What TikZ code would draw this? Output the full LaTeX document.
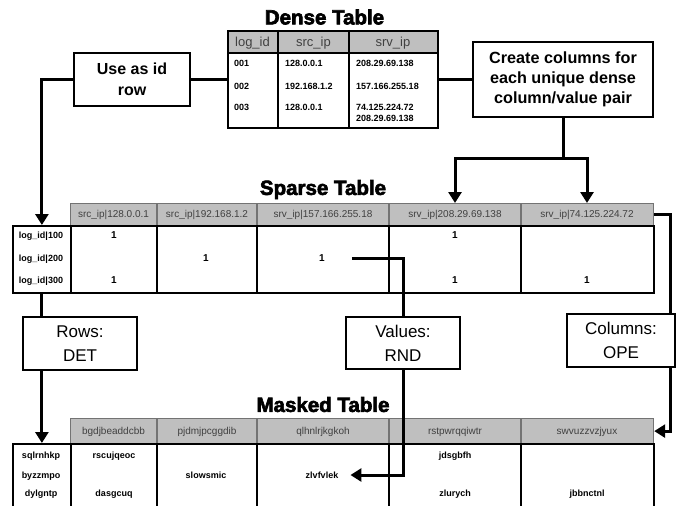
\documentclass[tikz,border=0pt]{standalone}
\usepackage{fontspec}
\setmainfont{Liberation Sans}
\newfontfamily\heavyfont{Liberation Sans}[BoldFeatures={FakeBold=3}]
\usetikzlibrary{arrows.meta}
\tikzset{
 conn/.style={line width=3pt},
 tipend/.style={-{Triangle[width=13pt,length=11pt]}},
 box/.style={draw, line width=2.5pt, align=center, inner sep=0pt},
 frame/.style={draw, line width=1.8pt, inner sep=0pt, anchor=north west},
 hdr/.style={draw=black!55, line width=1.2pt, fill=black!25, inner sep=0pt, anchor=north west},
 hgrid/.style={draw=black!55, line width=1.2pt},
 bgrid/.style={line width=1.8pt},
 title/.style={inner sep=0pt, text height=14.8pt, text depth=0pt, font=\heavyfont\bfseries\fontsize{20.5}{24}\selectfont},
 dhead/.style={inner sep=0pt, text height=9.3pt, text depth=0pt, font=\fontsize{13}{15}\selectfont, text=black!75},
 dcell/.style={inner sep=0pt, text height=6.5pt, text depth=0pt, anchor=west, font=\bfseries\fontsize{9}{11}\selectfont},
 shead/.style={inner sep=0pt, text height=7.2pt, text depth=0pt, font=\fontsize{10}{12}\selectfont, text=black!75},
 rlab/.style={inner sep=0pt, text height=6.5pt, text depth=0pt, font=\bfseries\fontsize{9}{11}\selectfont},
 one/.style={inner sep=0pt, text height=7.2pt, text depth=0pt, font=\bfseries\fontsize{10}{12}\selectfont},
}
\begin{document}
\begin{tikzpicture}[x=1pt,y=-1pt]
\useasboundingbox (0,0) rectangle (676,505);
\clip (0,0) rectangle (676,505);

% ---------- Dense table ----------
\node[title] (tdense) at (324.5,17) {Dense Table};
\node[hdr, minimum width=210pt, minimum height=23pt] (dh) at (227,30) {};
\node[frame, minimum width=210pt, minimum height=97pt] (dense) at (227,30) {};
\draw[bgrid] (227,53) -- (437,53) (278,30) -- (278,127) (349,30) -- (349,127);
\node[dhead] (dh1) at (252.5,41.5) {log\_id};
\node[dhead] (dh2) at (313.5,41.5) {src\_ip};
\node[dhead] (dh3) at (393,41.5) {srv\_ip};
\node[dcell] (d11) at (234,63) {001};
\node[dcell] (d21) at (234,86) {002};
\node[dcell] (d31) at (234,107) {003};
\node[dcell] (d12) at (285,63) {128.0.0.1};
\node[dcell] (d22) at (285,86) {192.168.1.2};
\node[dcell] (d32) at (285,107) {128.0.0.1};
\node[dcell] (d13) at (356,63) {208.29.69.138};
\node[dcell] (d23) at (356,86) {157.166.255.18};
\node[dcell] (d33) at (356,107) {74.125.224.72};
\node[dcell] (d34) at (356,118) {208.29.69.138};

% ---------- Boxes ----------
\node[box, minimum width=116pt, minimum height=53pt, font=\bfseries\fontsize{16}{21}\selectfont] (useid) at (132,79.5) {Use as id\\row};
\node[box, minimum width=180pt, minimum height=75pt, font=\bfseries\fontsize{16.2}{20}\selectfont] (create) at (563,79.5) {Create columns for\\each unique dense\\column/value pair};
\node[box, minimum width=114pt, minimum height=53pt, font=\fontsize{17}{24}\selectfont] (rows) at (80,343.5) {Rows:\\DET};
\node[box, minimum width=114pt, minimum height=52pt, font=\fontsize{17}{24}\selectfont] (values) at (403,343) {Values:\\RND};
\node[box, minimum width=108pt, minimum height=53pt, font=\fontsize{17}{24}\selectfont] (cols) at (621,340.5) {Columns:\\OPE};

% ---------- Sparse table ----------
\node[title] (tsparse) at (323,187.5) {Sparse Table};
\node[hdr, minimum width=583pt, minimum height=22pt] (sph) at (70,203) {};
\node[frame, minimum width=583pt, minimum height=67pt] (sbody) at (70,225) {};
\node[frame, minimum width=58pt, minimum height=67pt] (srl) at (12,225) {};
\draw[hgrid] (157,203) -- (157,225) (257,203) -- (257,225) (389,203) -- (389,225) (521,203) -- (521,225);
\draw[bgrid] (157,225) -- (157,292) (257,225) -- (257,292) (389,225) -- (389,292) (521,225) -- (521,292);
\node[shead] (sh1) at (113.5,214) {src\_ip|128.0.0.1};
\node[shead] (sh2) at (207,214) {src\_ip|192.168.1.2};
\node[shead] (sh3) at (323,214) {srv\_ip|157.166.255.18};
\node[shead] (sh4) at (455,214) {srv\_ip|208.29.69.138};
\node[shead] (sh5) at (587,214) {srv\_ip|74.125.224.72};
\node[rlab] (sr1) at (41,235) {log\_id|100};
\node[rlab] (sr2) at (41,258) {log\_id|200};
\node[rlab] (sr3) at (41,280) {log\_id|300};
\node[one] (v11) at (114,235) {1};
\node[one] (v31) at (114,280) {1};
\node[one] (v22) at (206,258) {1};
\node[one] (v23) at (322,258) {1};
\node[one] (v14) at (455,235) {1};
\node[one] (v34) at (455,280) {1};
\node[one] (v35) at (587,280) {1};

% ---------- Masked table ----------
\node[title] (tmasked) at (323,404.5) {Masked Table};
\node[hdr, minimum width=583pt, minimum height=25pt] (mph) at (70,418) {};
\node[frame, minimum width=583pt, minimum height=90pt] (mbody) at (70,443) {};
\node[frame, minimum width=58pt, minimum height=90pt] (mrl) at (12,443) {};
\draw[hgrid] (157,418) -- (157,443) (257,418) -- (257,443) (389,418) -- (389,443) (521,418) -- (521,443);
\draw[bgrid] (157,443) -- (157,533) (257,443) -- (257,533) (389,443) -- (389,533) (521,443) -- (521,533);
\node[shead] (mh1) at (113.5,430.5) {bgdjbeaddcbb};
\node[shead] (mh2) at (207,430.5) {pjdmjpcggdib};
\node[shead] (mh3) at (323,430.5) {qlhnlrjkgkoh};
\node[shead] (mh4) at (455,430.5) {rstpwrqqiwtr};
\node[shead] (mh5) at (587,430.5) {swvuzzvzjyux};
\node[rlab] (mr1) at (41,455) {sqlrnhkp};
\node[rlab] (mr2) at (41,475) {byzzmpo};
\node[rlab] (mr3) at (41,493) {dylgntp};
\node[rlab] (m11) at (114,455) {rscujqeoc};
\node[rlab] (m31) at (114,493) {dasgcuq};
\node[rlab] (m22) at (206,475) {slowsmic};
\node[rlab] (m23) at (322,475) {zlvfvlek};
\node[rlab] (m14) at (455,455) {jdsgbfh};
\node[rlab] (m34) at (455,493) {zlurych};
\node[rlab] (m35) at (587,493) {jbbnctnl};

% ---------- Connectors ----------
\coordinate (cj) at (563,158);
\coordinate (t4) at (sph.north -| sh4);
\coordinate (t5) at (sph.north -| sh5);
\coordinate (colx) at (670,0);
\draw[conn] (useid.east) -- (useid.east -| dense.west);
\draw[conn] (dense.east |- create.west) -- (create.west);
\draw[conn,tipend] (useid.west) -| (srl.north);
\draw[conn] (create.south) -- (cj);
\draw[conn,tipend] (cj) -| (t4);
\draw[conn,tipend] (cj) -| (t5);
\draw[conn] (srl.south) -- (srl.south |- rows.north);
\draw[conn,tipend] (rows.south -| srl.south) -- (mrl.north);
\draw[conn,shorten <=27pt] (v23.east) -| (values.north);
\draw[conn,tipend,shorten >=12pt] (values.south) |- (m23.east);
\draw[conn] (sph.east) -| (cols.north -| colx);
\draw[conn,tipend] (cols.south -| colx) |- (mph.east);
\end{tikzpicture}
\end{document}
